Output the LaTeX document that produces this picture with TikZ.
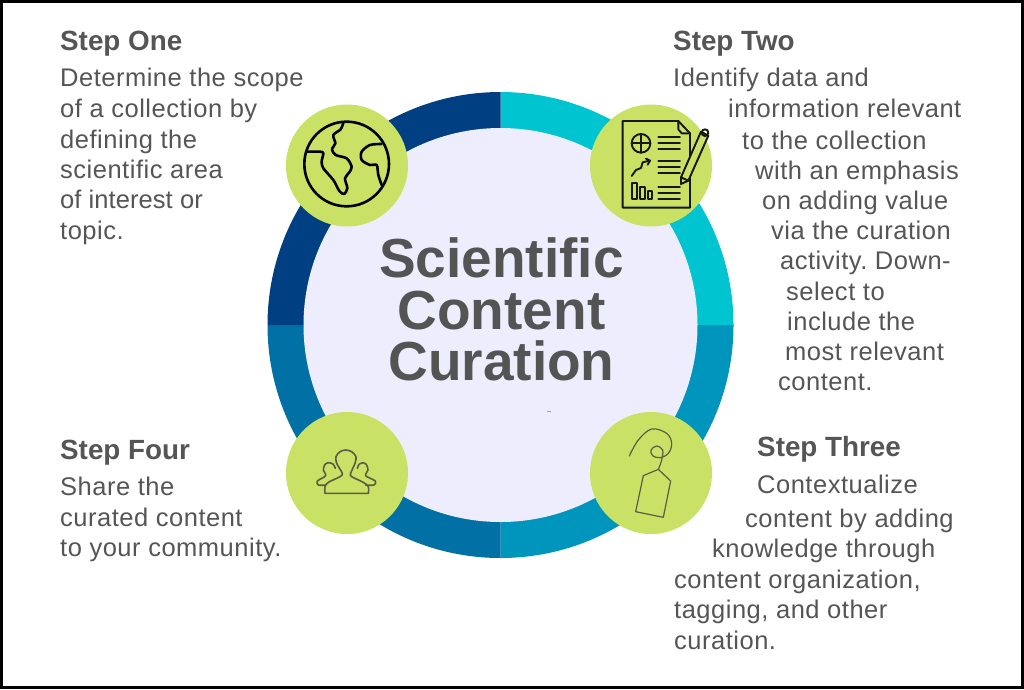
\documentclass[tikz,border=0pt]{standalone}
\usepackage{fontspec}
\setmainfont{Liberation Sans}
\frenchspacing
\definecolor{ink}{HTML}{555555}
\definecolor{title}{HTML}{545454}
\definecolor{disc}{HTML}{EEEDFE}
\definecolor{cy}{HTML}{00C4CF}
\definecolor{teal}{HTML}{0095BC}
\definecolor{navy}{HTML}{003F82}
\definecolor{mid}{HTML}{0070A5}
\definecolor{lime}{HTML}{C9E265}
\definecolor{iconink}{HTML}{15170C}
\definecolor{grayink}{HTML}{5A5C4A}
\tikzset{
  body/.style={anchor=base west,inner sep=0pt,text=ink,font=\fontsize{25.5}{26}\selectfont\addfontfeature{LetterSpace=2}},
  head/.style={anchor=base west,inner sep=0pt,text=ink,font=\fontsize{27.8}{28}\selectfont\bfseries},
  big/.style={anchor=base,inner sep=0pt,text=title,draw=none,font=\fontsize{55}{55}\selectfont\bfseries},
  badge/.style={circle,fill=lime,minimum size=122pt,inner sep=0pt},
  icon/.style={line join=round,line cap=round},
}
\begin{document}
\begin{tikzpicture}[x=1pt,y=-1pt]
\useasboundingbox (0,0) rectangle (1024,689);
\fill[white] (0,0) rectangle (1024,689);
\draw[black,line width=3pt] (1.5,1.5) rectangle (1022.5,687.5);
% ring
\fill[cy] (500.5,325) -- (500.5,92) arc[start angle=-90,end angle=0,radius=233] -- cycle;
\fill[teal] (500.5,325) -- (733.5,325) arc[start angle=0,end angle=90,radius=233] -- cycle;
\fill[mid] (500.5,325) -- (500.5,558) arc[start angle=90,end angle=180,radius=233] -- cycle;
\fill[navy] (500.5,325) -- (267.5,325) arc[start angle=180,end angle=270,radius=233] -- cycle;
\node[circle,fill=disc,minimum size=394pt,inner sep=0pt] (disc) at (500.5,325) {};
% badges
\node[badge] (b1) at (347,165.5) {};
\node[badge] (b2) at (651,165.5) {};
\node[badge] (b3) at (651,473) {};
\node[badge] (b4) at (347,473) {};
% title
\node[big] (t1) at (501.5,277) {Scientific};
\node[big] (t2) at (501.5,329) {Content};
\node[big] (t3) at (501.5,380) {Curation};
\draw[line width=0.7pt,draw=black!35] (547,411.7) -- (551,411.7);
% globe
\begin{scope}[shift={(270,90)},x=0.3333pt,y=-0.3333pt,icon,draw=black,line width=2.6pt]
\draw (230,222) circle[radius=127];
\draw plot[smooth,tension=0.5] coordinates {(220,98) (212,118) (190,135) (196,160) (186,178) (197,195) (230,205) (245,230) (238,247) (225,265) (232,295) (222,312) (208,303) (190,270) (160,235) (155,215) (160,190) (150,185) (110,185)};
\draw plot[smooth,tension=0.5] coordinates {(335,162) (300,165) (275,185) (275,210) (300,225) (320,225) (325,255) (335,285)};
\end{scope}
% report
\begin{scope}[shift={(580,90)},x=0.3333pt,y=-0.3333pt,icon,draw=iconink,line width=1.9pt]
\draw (295,93) -- (128,93) -- (128,353) -- (330,353) -- (330,130) -- cycle;
\draw (295,93) -- (295,118) -- (305,130) -- (330,130);
\draw (183,160) circle[radius=28];
\draw (155,160) -- (211,160) (183,132) -- (183,188);
\draw (235,142) -- (300,142) (235,160) -- (300,160) (235,178) -- (300,178);
\draw (235,213) -- (300,213) (235,232) -- (300,232) (235,250) -- (300,250);
\draw (235,290) -- (300,290) (235,308) -- (300,308) (235,326) -- (300,326);
\draw (155,258) -- (168,240) -- (183,234) -- (188,217) -- (208,212);
\draw (198,206) -- (210,212) -- (203,224);
\draw (155,278) rectangle (170,326);
\draw (180,290) rectangle (195,326);
\draw (203,303) rectangle (217,326);
\draw[fill=lime] (303,282) -- (303,262) -- (363,125) -- (385,137) -- (325,272) -- cycle;
\draw (303,262) -- (325,272);
\draw (375,128) circle[radius=10];
\end{scope}
% tag
\begin{scope}[shift={(580,405)},x=0.3333pt,y=-0.3333pt,icon,draw=grayink,line width=1.2pt]
\draw plot[smooth,tension=0.6] coordinates {(148,153) (175,105) (215,72) (260,85) (275,115) (265,145) (240,158) (218,152) (213,135) (230,123) (248,135) (245,165) (235,193)};
\draw (235,193) -- (190,212) -- (167,320) -- (250,337) -- (272,228) -- cycle;
\end{scope}
% people
\begin{scope}[shift={(280,405)},x=0.3333pt,y=-0.3333pt,icon,draw=grayink,line width=1.6pt]
\draw plot[smooth,tension=0.5] coordinates {(135,265) (135,245) (145,232) (180,215) (187,205) (170,175) (168,155) (180,140) (197,135) (215,140) (228,155) (225,175) (212,205) (215,215) (250,232) (265,245) (265,265)} -- cycle;
\draw plot[smooth,tension=0.5] coordinates {(137,240) (115,240) (112,228) (137,212) (130,195) (135,178) (147,173) (160,178) (166,190)};
\draw plot[smooth,tension=0.5] coordinates {(257,240) (282,240) (286,228) (257,212) (264,195) (259,178) (250,173) (237,178) (232,190)};
\end{scope}
% step one
\node[head] (s1) at (60,50) {Step One};
\node[body] (s1a) at (60,86) {Determine the scope};
\node[body] (s1b) at (60,117) {of a collection by};
\node[body] (s1c) at (60,148) {defining the};
\node[body] (s1d) at (60,178) {scientific area};
\node[body] (s1e) at (60,208) {\addfontfeature{LetterSpace=0.3}of interest or};
\node[body] (s1f) at (60,239) {topic.};
% step two
\node[head] (s2) at (673,50) {Step Two};
\node[body] (s2a) at (673,86) {Identify data and};
\node[body] (s2b) at (728,117) {information relevant};
\node[body] (s2c) at (742,149) {to the collection};
\node[body] (s2d) at (755,179) {with an emphasis};
\node[body] (s2e) at (762,209) {on adding value};
\node[body] (s2f) at (771,239) {via the curation};
\node[body] (s2g) at (780,269) {activity. Down-};
\node[body] (s2h) at (786,300) {select to};
\node[body] (s2i) at (787,330) {include the};
\node[body] (s2j) at (785,360) {most relevant};
\node[body] (s2k) at (778,390) {content.};
% step three
\node[head] (s3) at (757,456.5) {Step Three};
\node[body] (s3a) at (757,493) {Contextualize};
\node[body] (s3b) at (745,527) {content by adding};
\node[body] (s3c) at (712,557) {knowledge through};
\node[body] (s3d) at (674,588) {content organization,};
\node[body] (s3e) at (674,618) {tagging, and other};
\node[body] (s3f) at (674,649) {curation.};
% step four
\node[head] (s4) at (60,459) {Step Four};
\node[body] (s4a) at (60,495) {Share the};
\node[body] (s4b) at (60,526) {curated content};
\node[body] (s4c) at (60,556) {to your community.};
\end{tikzpicture}
\end{document}
